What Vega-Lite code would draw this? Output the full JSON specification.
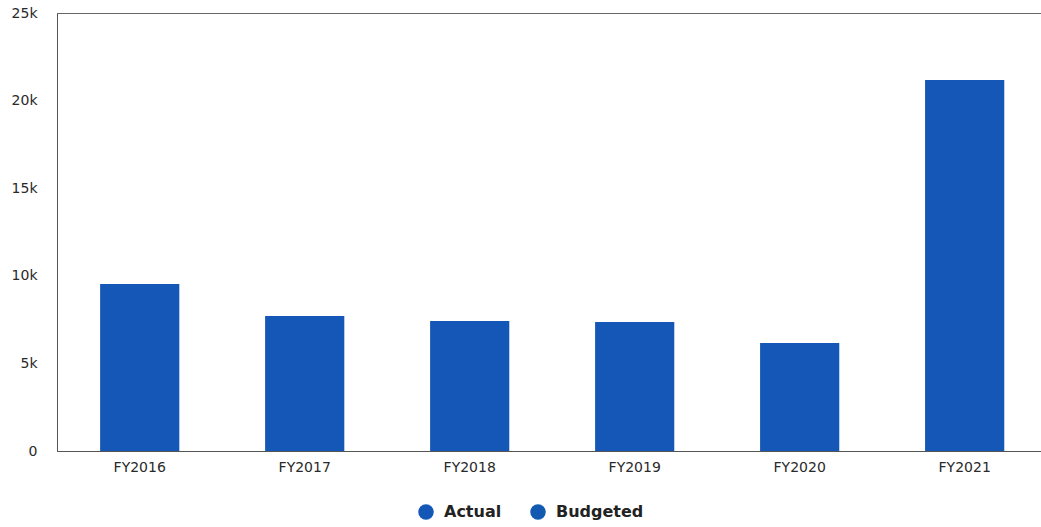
{
  "$schema": "https://vega.github.io/schema/vega-lite/v6.json",
  "width": 984,
  "height": 438,
  "padding": {"left": 57, "top": 13, "right": 0, "bottom": 76},
  "autosize": {"type": "none"},
  "background": "white",
  "config": {
    "view": {"stroke": "#666666", "strokeWidth": 1},
    "font": "DejaVu Sans",
    "axis": {"grid": false, "ticks": false, "labelFont": "DejaVu Sans", "labelFontSize": 14, "labelColor": "#2a2a2a", "domainColor": "#555555"}
  },
  "data": {
    "values": [
      {"year": "FY2016", "series": "Actual", "value": 9530},
      {"year": "FY2017", "series": "Actual", "value": 7700},
      {"year": "FY2018", "series": "Actual", "value": 7420},
      {"year": "FY2019", "series": "Actual", "value": 7360},
      {"year": "FY2020", "series": "Actual", "value": 6160},
      {"year": "FY2021", "series": "Actual", "value": 21180}
    ]
  },
  "mark": {"type": "bar"},
  "encoding": {
    "x": {
      "field": "year", "type": "nominal", "title": null,
      "scale": {"paddingInner": 0.52, "paddingOuter": 0.242, "align": 0.54},
      "axis": {"labelAngle": 0, "labelPadding": 9, "domain": true}
    },
    "y": {
      "field": "value", "type": "quantitative", "title": null,
      "scale": {"domain": [0, 25000]},
      "axis": {"values": [0, 5000, 10000, 15000, 20000, 25000], "labelExpr": "datum.value == 0 ? '0' : (datum.value / 1000) + 'k'", "labelPadding": 20}
    },
    "color": {
      "field": "series", "type": "nominal", "title": null,
      "scale": {"domain": ["Actual", "Budgeted"], "range": ["#1557b6", "#1259b2"]},
      "legend": {
        "orient": "none", "legendX": 361, "legendY": 491,
        "direction": "horizontal", "symbolType": "circle", "symbolSize": 240,
        "labelFontSize": 16, "labelFontWeight": "bold", "labelColor": "#222222", "labelOffset": 10,
        "symbolStrokeWidth": 0, "columnPadding": 28,
        "values": ["Actual", "Budgeted"]
      }
    }
  }
}
